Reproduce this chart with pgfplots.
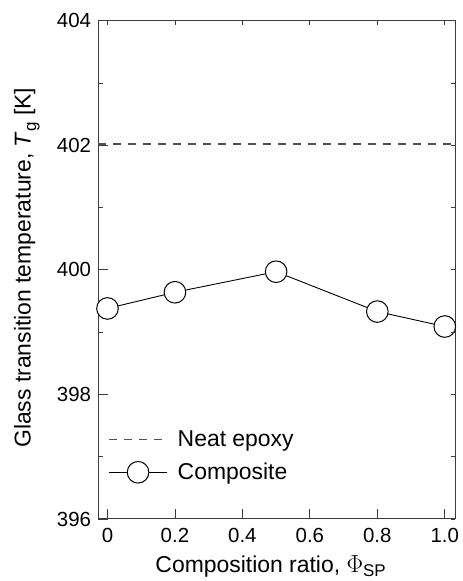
\documentclass[border=0pt]{standalone}
\usepackage{fontspec}
\setmainfont{Liberation Sans}
\usepackage{pgfplots}
\pgfplotsset{compat=1.18}
\definecolor{dashgray}{RGB}{80,80,80}
\definecolor{axgray}{RGB}{60,60,60}
\begin{document}
\begin{tikzpicture}
\begin{axis}[
  name=main,
  scale only axis, width=357bp, height=498bp,
  xmin=-0.028, xmax=1.031, ymin=396, ymax=404,
  xtick={0,0.2,0.4,0.6,0.8,1.0},
  xticklabels={0,0.2,0.4,0.6,0.8,1.0},
  ytick={396,398,400,402,404},
  minor ytick={397,399,401,403},
  xtick pos=bottom, ytick pos=left,
  tick align=inside,
  major tick length=10bp, minor tick length=5bp,
  every tick/.style={axgray, line width=0.9bp},
  axis line style={axgray, line width=1bp},
  /pgf/number format/assume math mode=true,
  tick label style={font=\fontsize{20.5}{23}\selectfont},
  label style={font=\fontsize{23}{26}\selectfont},
  xticklabel style={yshift=-5.5bp},
  yticklabel style={xshift=-3.5bp},
  xlabel={Composition ratio, $\Phi$\raisebox{-0.3ex}{\fontsize{17}{17}\selectfont SP}},
  ylabel={Glass transition temperature, \textit{T}\raisebox{-0.45ex}{\fontsize{17}{17}\selectfont g} [K]},
  xlabel style={at={([xshift=-6bp,yshift=-53.5bp]axis description cs:0.5,0)}, anchor=base},
  ylabel style={at={([xshift=-67.3bp,yshift=2bp]axis description cs:0,0.5)}, anchor=base},
  legend cell align=left,
  legend style={draw=none, fill=none, at={(0.02,0.185)}, anchor=north west,
    font=\fontsize{23}{26}\selectfont, row sep=11bp,
    /tikz/every odd column/.append style={column sep=8bp}},
  legend image code/.code={%
    \draw[mark repeat=2,mark phase=2,#1] plot coordinates {(0bp,0bp) (29bp,0bp) (58bp,0bp)};},
]
\addplot[dashgray, line width=1.3bp, dash pattern=on 8bp off 7bp] coordinates {(-0.028,402.02) (1.031,402.02)};
\addlegendentry{Neat epoxy}
\addplot[black, line width=0.9bp, mark=*, mark size=10.8bp,
  mark options={fill=white, draw=black, line width=1bp, solid}] coordinates {
  (0,399.38) (0.2,399.64) (0.5,399.97) (0.8,399.33) (1.0,399.09)};
\addlegendentry{Composite}
\end{axis}
\begin{axis}[
  scale only axis, width=357bp, height=498bp,
  xmin=-0.028, xmax=1.031, ymin=396, ymax=404,
  xtick={0,0.2,0.4,0.6,0.8,1.0}, xticklabels={},
  ytick={396,397,398,399,400,401,402,403,404}, yticklabels={},
  xtick pos=top, ytick pos=right,
  tick align=inside,
  major tick length=4bp,
  every tick/.style={axgray, line width=0.9bp},
  axis line style={draw=none},
]
\end{axis}
\pgfresetboundingbox
\path[use as bounding box] ([xshift=-98bp,yshift=-62bp]main.south west) rectangle ([xshift=7bp,yshift=20.7bp]main.north east);
\end{tikzpicture}
\end{document}
